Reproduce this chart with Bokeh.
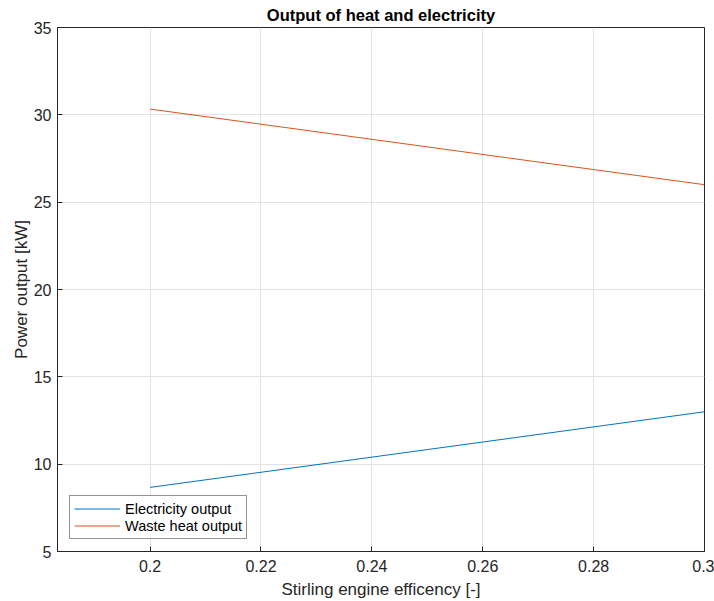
from bokeh.plotting import figure
from bokeh.models import FixedTicker, Range1d, Legend, LegendItem
from bokeh.embed import file_html
from bokeh.resources import INLINE

efficiency = [0.2, 0.3]
electricity = [8.67, 13.0]
waste_heat = [30.33, 26.0]

x_ticks = [0.2, 0.22, 0.24, 0.26, 0.28, 0.3]
x_tick_labels = ["0.2", "0.22", "0.24", "0.26", "0.28", "0.3"]
y_ticks = [5, 10, 15, 20, 25, 30, 35]

FONT = "Liberation Sans"
AX = "#262626"

p = figure(width=714, height=601, output_backend="svg", toolbar_location=None,
           x_range=Range1d(0.1833, 0.3), y_range=Range1d(5, 35),
           min_border_left=57, min_border_right=10, min_border_top=27, min_border_bottom=50,
           title="Output of heat and electricity")
p.title.align = "center"
p.title.text_font = FONT
p.title.text_font_size = "16.5px"
p.title.text_font_style = "bold"
p.title.text_color = "#000000"
p.title.offset = 0
p.title.standoff = 7

p.background_fill_color = "white"
p.border_fill_color = "white"
p.outline_line_color = AX
p.outline_line_width = 1

p.xaxis.ticker = FixedTicker(ticks=x_ticks)
p.xaxis.major_label_overrides = {t: l for t, l in zip(x_ticks, x_tick_labels)}
p.yaxis.ticker = FixedTicker(ticks=y_ticks)

for ax in (p.xaxis[0], p.yaxis[0]):
    ax.major_tick_in = 5
    ax.major_tick_out = 0
    ax.minor_tick_line_color = None
    ax.axis_line_color = AX
    ax.major_tick_line_color = AX
    ax.major_label_text_font = FONT
    ax.major_label_text_font_size = "16px"
    ax.major_label_text_color = AX
    ax.axis_label_text_font = FONT
    ax.axis_label_text_font_size = "17px"
    ax.axis_label_text_font_style = "normal"
    ax.axis_label_text_color = AX

p.xaxis.major_label_standoff = 8
p.yaxis.major_label_standoff = 6
p.xaxis.axis_label = "Stirling engine efficency [-]"
p.yaxis.axis_label = "Power output [kW]"
p.yaxis.axis_label_standoff = 0
p.xaxis.axis_label_standoff = 5

p.xgrid.ticker = FixedTicker(ticks=x_ticks)
p.ygrid.ticker = FixedTicker(ticks=y_ticks)
p.grid.grid_line_color = "#e3e3e3"
p.grid.grid_line_width = 1

r1 = p.line(efficiency, electricity, line_color="#0072BD", line_width=1)
r2 = p.line(efficiency, waste_heat, line_color="#D95319", line_width=1)

legend = Legend(items=[LegendItem(label="Electricity output", renderers=[r1]),
                       LegendItem(label="Waste heat output", renderers=[r2])],
                location="bottom_left")
legend.label_text_font = FONT
legend.label_text_font_size = "14.5px"
legend.label_text_color = "#000000"
legend.border_line_color = AX
legend.border_line_width = 1
legend.glyph_width = 46
legend.glyph_height = 17
legend.label_height = 17
legend.spacing = 0
legend.padding = 4
legend.margin = 12
legend.label_standoff = 5
legend.background_fill_alpha = 1
p.add_layout(legend, "center")

open("out.html", "w").write(file_html(p, INLINE))
